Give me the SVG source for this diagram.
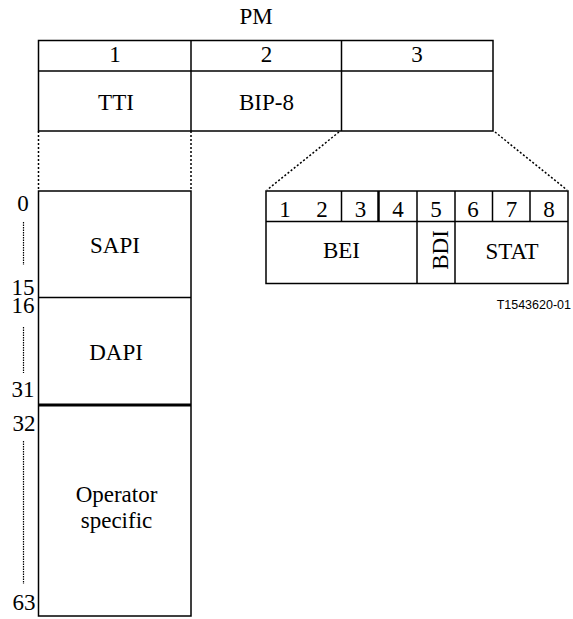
<svg xmlns="http://www.w3.org/2000/svg" width="573" height="619" viewBox="0 0 573 619">
<style>
.b{fill:none;stroke:#000;stroke-width:1.5}
.t{font-family:'Liberation Serif','Times New Roman',serif;font-size:23px;fill:#000;text-anchor:middle}
.d{fill:none;stroke:#000;stroke-width:1.5;stroke-dasharray:2 2}
.g{fill:none;stroke:#000;stroke-width:1.2;stroke-dasharray:1.5 1}
</style>
<rect width="573" height="619" fill="#fff"/>
<g id="pm">
<text class="t" x="256" y="24">PM</text>
<rect class="b" x="38.5" y="40.5" width="454.5" height="90.5"/>
<line class="b" x1="38.5" y1="71" x2="493" y2="71"/>
<line class="b" x1="191" y1="40.5" x2="191" y2="131"/>
<line class="b" x1="341.5" y1="40.5" x2="341.5" y2="131"/>
<text class="t" x="115" y="62">1</text>
<text class="t" x="266.5" y="62">2</text>
<text class="t" x="417" y="62">3</text>
<text class="t" x="116" y="110">TTI</text>
<text class="t" x="266.5" y="110">BIP-8</text>
</g>
<g id="connectors">
<line class="d" x1="38.5" y1="131" x2="38.5" y2="191"/>
<line class="d" x1="191" y1="131" x2="191" y2="191"/>
<line class="d" x1="339" y1="132" x2="267" y2="190"/>
<line class="d" x1="495" y1="132" x2="567" y2="190"/>
</g>
<g id="ttiblock">
<rect class="b" x="38.5" y="191" width="152.5" height="425"/>
<line class="b" x1="38.5" y1="297.5" x2="191" y2="297.5"/>
<line x1="38.5" y1="405" x2="191" y2="405" stroke="#000" stroke-width="3"/>
<text class="t" x="115" y="253">SAPI</text>
<text class="t" x="116" y="360">DAPI</text>
<text class="t" x="116.5" y="502">Operator</text>
<text class="t" x="116.5" y="528">specific</text>
</g>
<g id="indices">
<text class="t" x="23" y="211">0</text>
<line class="g" x1="23.5" y1="222" x2="23.5" y2="265"/>
<text class="t" x="23" y="295">15</text>
<text class="t" x="23" y="313">16</text>
<line class="g" x1="23.5" y1="327" x2="23.5" y2="373"/>
<text class="t" x="23" y="397">31</text>
<text class="t" x="24" y="431">32</text>
<line class="g" x1="23.5" y1="441" x2="23.5" y2="584"/>
<text class="t" x="24" y="610">63</text>
</g>
<g id="byte">
<rect class="b" x="266" y="191" width="302" height="92.5"/>
<line class="b" x1="266" y1="221.5" x2="568" y2="221.5"/>
<line class="b" x1="341.5" y1="191" x2="341.5" y2="221.5"/>
<line x1="378.5" y1="191" x2="378.5" y2="221.5" stroke="#000" stroke-width="2.5"/>
<line class="b" x1="417" y1="191" x2="417" y2="283.5"/>
<line class="b" x1="455" y1="191" x2="455" y2="283.5"/>
<line class="b" x1="492.5" y1="191" x2="492.5" y2="221.5"/>
<line class="b" x1="530" y1="191" x2="530" y2="221.5"/>
<text class="t" x="285" y="217">1</text>
<text class="t" x="322" y="217">2</text>
<text class="t" x="360.5" y="217">3</text>
<text class="t" x="398" y="217">4</text>
<text class="t" x="436" y="217">5</text>
<text class="t" x="473" y="217">6</text>
<text class="t" x="511.5" y="217">7</text>
<text class="t" x="549" y="217">8</text>
<text class="t" x="341.5" y="258">BEI</text>
<text class="t" transform="translate(448 250) rotate(-90)">BDI</text>
<text class="t" x="512" y="259">STAT</text>
</g>
<text x="571" y="309" font-family="Liberation Sans, sans-serif" font-size="12.5" text-anchor="end">T1543620-01</text>
</svg>
